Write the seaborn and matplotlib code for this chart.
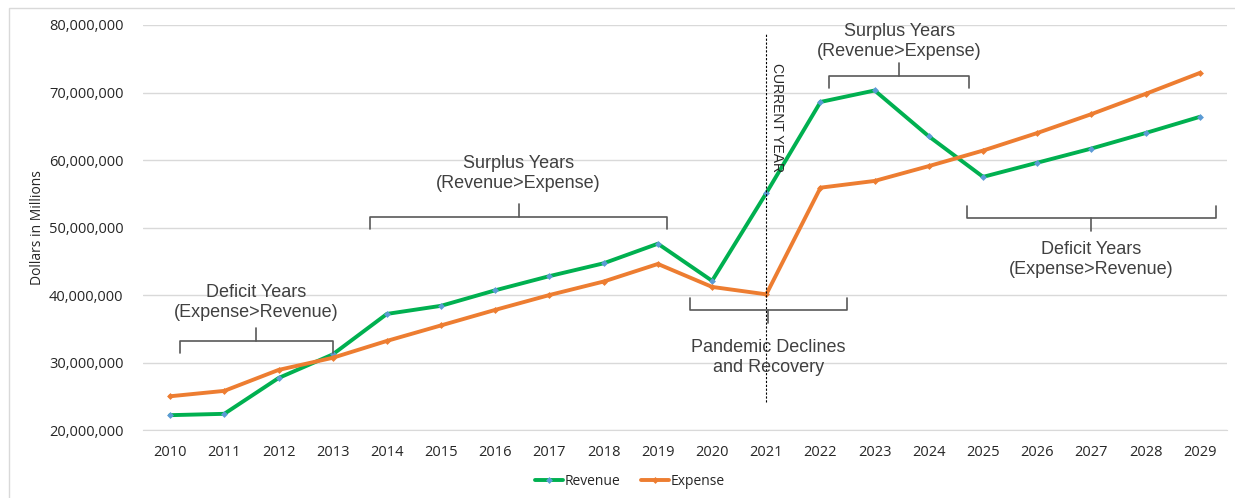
import numpy as np
import pandas as pd
import matplotlib
matplotlib.use("Agg")
import matplotlib.pyplot as plt
from matplotlib.patches import Rectangle
from matplotlib.ticker import FuncFormatter
import seaborn as sns

years = list(range(2010, 2030))
revenue = [22.2, 22.4, 27.7, 31.2, 37.2, 38.4, 40.7, 42.8, 44.7, 47.6,
           42.1, 55.1, 68.6, 70.3, 63.5, 57.5, 59.6, 61.7, 64.0, 66.4]
expense = [25.0, 25.8, 28.9, 30.7, 33.2, 35.5, 37.8, 40.0, 42.0, 44.6,
           41.2, 40.1, 55.9, 56.9, 59.1, 61.4, 64.0, 66.8, 69.8, 72.9]
series_names = ["Revenue", "Expense"]
colors = {"Revenue": "#00B050", "Expense": "#ED7D31"}

# brackets: (x_start, x_end, y, label, label_y, direction) direction: +1 stem up / -1 stem down
brackets = [
    (2010.18, 2013.0, 33.2, "Deficit Years\n(Expense>Revenue)", 38.9, 1),
    (2013.69, 2019.17, 51.6, "Surplus Years\n(Revenue>Expense)", 58.0, 1),
    (2019.59, 2022.49, 37.8, "Pandemic Declines\nand Recovery", 30.7, -1),
    (2022.16, 2024.74, 72.4, "Surplus Years\n(Revenue>Expense)", 77.6, 1),
    (2024.70, 2029.30, 51.4, "Deficit Years\n(Expense>Revenue)", 45.3, -1),
]
current_year = 2021

df = pd.DataFrame({
    "year": years * 2,
    "value": [v * 1e6 for v in revenue + expense],
    "series": ["Revenue"] * len(years) + ["Expense"] * len(years),
})

sns.set_style("white")
plt.rcParams["font.family"] = ["Open Sans", "DejaVu Sans"]

fig = plt.figure(figsize=(12.35, 4.98), dpi=100)
ax = fig.add_axes([0.1158, 0.1365, 0.8777, 0.8133])

sns.lineplot(data=df, x="year", y="value", hue="series", hue_order=series_names,
             palette=colors, linewidth=2.8, marker="D", markersize=3.5,
             markeredgewidth=0, ax=ax, legend=False)
# tiny blue-ish markers on revenue like in the reference
ax.lines[0].set_markerfacecolor("#5B9BD5")

ax.set_xlim(2009.5, 2029.5)
ax.set_ylim(20e6, 80e6)
ax.set_xticks(years)
ax.set_yticks(np.arange(20e6, 80.1e6, 10e6))
ax.yaxis.set_major_formatter(FuncFormatter(lambda v, p: f"{v:,.0f}"))
ax.grid(axis="y", color="#D9D9D9", linewidth=1)
ax.set_axisbelow(True)
for s in ["top", "right", "left"]:
    ax.spines[s].set_visible(False)
ax.spines["bottom"].set_color("#D9D9D9")
ax.tick_params(axis="both", length=0, labelsize=10.5, colors="#262626")
ax.tick_params(axis="x", pad=11)
ax.tick_params(axis="y", pad=14)
ax.set_xlabel("")
ax.set_ylabel("Dollars in Millions", fontsize=10, color="#262626", labelpad=3)

# current year marker
ax.vlines(current_year, 24.1e6, 78.8e6, colors="black", linestyles=(0, (2, 1.5)), linewidth=0.8)
ax.text(current_year + 0.2, 74.4e6, "CURRENT YEAR", rotation=-90, ha="center", va="top",
        fontsize=10, color="#262626", family=["Liberation Sans", "DejaVu Sans"])

# brackets with labels
tick_h = 1.8e6
stem_h = 1.9e6
for x0, x1, y, label, ly, d in brackets:
    y = y * 1e6
    xm = (x0 + x1) / 2
    ax.plot([x0, x0, x1, x1], [y - d * tick_h, y, y, y - d * tick_h], color="#595959", lw=1.2)
    ax.plot([xm, xm], [y, y + d * stem_h], color="#595959", lw=1.2)
    ax.text(xm, ly * 1e6, label, ha="center", va="center", multialignment="center",
            fontsize=13, color="#404040", linespacing=1.2,
            family=["Liberation Sans", "DejaVu Sans"])

handles = [plt.Line2D([], [], color=colors[n], lw=2.8, marker="D", markersize=3.5,
                      markeredgewidth=0,
                      markerfacecolor="#5B9BD5" if n == "Revenue" else colors[n])
           for n in series_names]
fig.legend(handles, series_names, loc="center", bbox_to_anchor=(0.51, 0.034), ncol=2,
           frameon=False, fontsize=10, handlelength=2.0, handletextpad=0.1, columnspacing=1.5)

fig.patches.append(Rectangle((0.007, -0.01), 1.0, 0.994, transform=fig.transFigure,
                             fill=False, edgecolor="#D9D9D9", lw=1))

fig.savefig("out.png", dpi=100)
